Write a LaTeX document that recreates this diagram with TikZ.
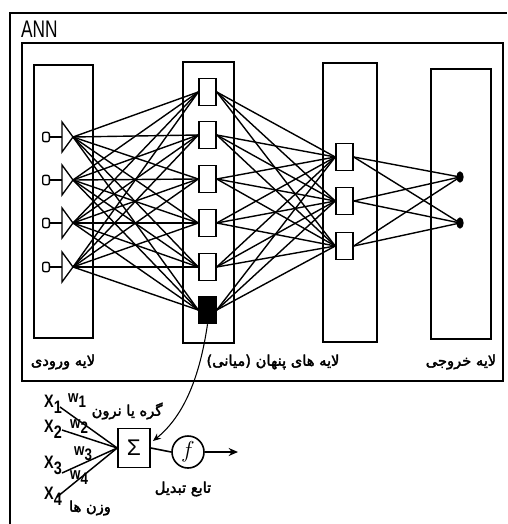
\documentclass[tikz,border=0pt]{standalone}
\usepackage{fontspec}
\setmainfont{Liberation Sans}
\newfontfamily\fa[Script=Arabic,FakeBold=2.5]{DejaVu Sans}
\TeXXeTstate=1
\usetikzlibrary{shapes.geometric,arrows.meta}
\begin{document}
\begin{tikzpicture}[x=0.75pt,y=-0.75pt,
  colbox/.style={draw,line width=1.7pt},
  neuron/.style={draw,line width=1.1pt,fill=white,minimum width=12.75pt,minimum height=20.25pt,inner sep=0pt},
  conn/.style={line width=1.05pt},
  inunit/.style={draw,line width=1pt,rounded corners=1.5pt,minimum width=5pt,minimum height=7pt,inner sep=0pt},
  outunit/.style={ellipse,fill=black,minimum width=5.5pt,minimum height=8.5pt,inner sep=0pt},
  falab/.style={font=\fa\fontsize{11}{11}\selectfont,inner sep=0pt},
  xlab/.style={font=\bfseries\fontsize{13.5}{13.5}\selectfont,xscale=0.8,inner sep=0pt,anchor=base west},
  wlab/.style={font=\bfseries\fontsize{12.5}{12.5}\selectfont,xscale=0.8,inner sep=0pt,anchor=base west}]
\useasboundingbox (0,0) rectangle (507,524);
% outer frame
\draw[line width=1.2pt] (10,524) -- (10,13) -- (507,13);
\node[font=\fontsize{18}{18}\selectfont,xscale=0.72,anchor=west,inner sep=0pt] (ann) at (21,29) {ANN};
% inner box
\draw[line width=2pt] (22,43) rectangle (503,381);
% columns
\draw[colbox] (34,65) rectangle (93,338);
\draw[colbox] (183,62) rectangle (234,343);
\draw[colbox] (323,63) rectangle (377,342);
\draw[colbox] (431,69) rectangle (491,339);
% input units
\foreach \y [count=\i] in {137,180,223,267}{
  \node[inunit] (c\i) at (46,\y) {};
  \coordinate (t\i) at (62,\y);
  \coordinate (i\i) at (73,\y);
  \draw[line width=1pt] (c\i.east) -- (t\i);
  \draw[line width=1pt] (62,{\y-15}) -- (i\i) -- (62,{\y+15}) -- cycle;
}
% hidden layer 1
\foreach \y [count=\j] in {92,135,179,223,267,310}{
  \coordinate (hp\j) at (207.5,\y);
}
% hidden 2
\foreach \y [count=\k] in {157,201,246}{
  \coordinate (gp\k) at (344.5,\y);
}
\node[neuron] (h1) at (hp1) {};
\node[neuron] (h2) at (hp2) {};
\node[neuron] (h3) at (hp3) {};
\node[neuron] (h4) at (hp4) {};
\node[neuron] (h5) at (hp5) {};
\node[neuron,fill=black] (h6) at (hp6) {};
\node[neuron] (g1) at (gp1) {};
\node[neuron] (g2) at (gp2) {};
\node[neuron] (g3) at (gp3) {};
\node[outunit] (o1) at (460,177) {};
\node[outunit] (o2) at (460,223) {};
\foreach \i in {1,...,4}{\foreach \j in {1,...,6}{\draw[conn] (i\i) -- (h\j.west);}}
\foreach \j in {1,...,6}{\foreach \k in {1,2,3}{\draw[conn] (h\j.east) -- (g\k.west);}}
\foreach \k in {1,2,3}{\foreach \l in {1,2}{\draw[conn] (g\k.east) -- (o\l.center);}}
% layer labels
\node[falab] (l1) at (63,362) {\beginR لایه ورودی\endR};
\node[falab] (l2) at (273,362) {\beginR لایه های پنهان (میانی)\endR};
\node[falab] (l3) at (461,362) {\beginR لایه خروجی\endR};
% single neuron
\node[draw,line width=1.2pt,minimum width=24pt,minimum height=29pt,inner sep=0pt,font=\fontsize{17}{17}\selectfont] (sig) at (134,448) {Σ};
\node[draw,circle,line width=1.2pt,minimum size=24pt,inner sep=0pt,font=\fontsize{17}{17}\selectfont] (fc) at (188,452) {$f$};
\coordinate (aend) at (238,452);
\coordinate (sigin) at (153,441);
\draw[line width=1.2pt] (sig.east) -- (fc.west);
\draw[line width=1.2pt,-{Stealth[length=7pt,width=6pt]}] (fc.east) -- (aend);
\draw[line width=0.8pt,-{Stealth[length=6pt,width=5pt]}] (h6.south) .. controls (200,375) and (185,415) .. (sigin);
\node[falab] (neu) at (127,411) {\beginR گره یا نرون\endR};
\node[falab] (tf) at (183,489) {\beginR تابع تبدیل\endR};
\node[falab] (wz) at (90,508) {\beginR وزن ها\endR};
% inputs
\node[xlab] (x1) at (44,407) {X\raisebox{-5pt}{1}};
\node[xlab] (x2) at (44,432) {X\raisebox{-5pt}{2}};
\node[xlab] (x3) at (44,468) {X\raisebox{-5pt}{3}};
\node[xlab] (x4) at (44,499) {X\raisebox{-5pt}{4}};
\coordinate (s1) at (60,407);
\coordinate (s2) at (62,430);
\coordinate (s3) at (62,473);
\coordinate (s4) at (57,497);
\foreach \i in {1,...,4}{\draw[line width=1.1pt] (s\i) -- (sig.west);}
\node[wlab] (w1) at (68,402) {w\raisebox{-4pt}{1}};
\node[wlab] (w2) at (70,428) {w\raisebox{-4pt}{2}};
\node[wlab] (w3) at (74,455) {w\raisebox{-4pt}{3}};
\node[wlab] (w4) at (70,479) {w\raisebox{-4pt}{4}};
\end{tikzpicture}
\end{document}
